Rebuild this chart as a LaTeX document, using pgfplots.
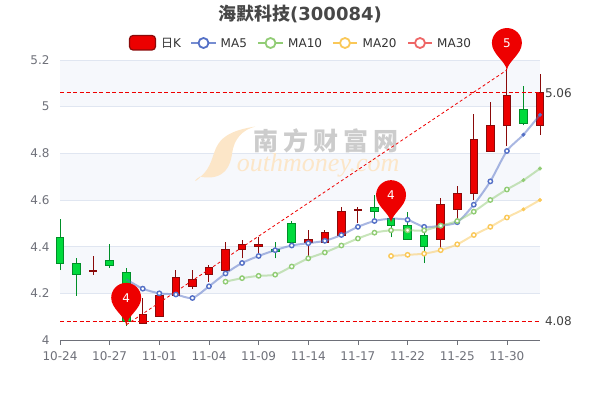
\documentclass[border=0pt]{standalone}
\usepackage{fontspec}
\usepackage{pgfplots}
\pgfplotsset{compat=1.18}
\setmainfont{DejaVu Sans}
\newfontfamily\cjk{Noto Sans CJK SC}
\newfontfamily\wmcjk[LetterSpace=20]{Noto Sans CJK SC}
\newfontfamily\wmlat{Liberation Serif}
\definecolor{tickc}{HTML}{6E7079}
\definecolor{gridc}{HTML}{E0E6F1}
\definecolor{bandc}{HTML}{F6F8FC}
\definecolor{upc}{HTML}{EC0000}
\definecolor{upb}{HTML}{8A0A0A}
\definecolor{dnc}{HTML}{00DA3C}
\definecolor{dnb}{HTML}{008F28}
\definecolor{ma5}{HTML}{5470C6}
\definecolor{ma10}{HTML}{91CC75}
\definecolor{ma20}{HTML}{FAC858}
\definecolor{ma30}{HTML}{EE6666}
\definecolor{pinc}{HTML}{EE0000}
\definecolor{wmp}{HTML}{FCE6C8}
\definecolor{wmg}{HTML}{CCCCCC}
\pgfdeclareplotmark{pin}{%
  \pgfpathmoveto{\pgfpoint{0pt}{0pt}}%
  \pgfpathcurveto{\pgfpoint{-1.5pt}{9pt}}{\pgfpoint{-15pt}{16pt}}{\pgfpoint{-15pt}{27pt}}%
  \pgfpathcurveto{\pgfpoint{-15pt}{35.3pt}}{\pgfpoint{-8.3pt}{42pt}}{\pgfpoint{0pt}{42pt}}%
  \pgfpathcurveto{\pgfpoint{8.3pt}{42pt}}{\pgfpoint{15pt}{35.3pt}}{\pgfpoint{15pt}{27pt}}%
  \pgfpathcurveto{\pgfpoint{15pt}{16pt}}{\pgfpoint{1.5pt}{9pt}}{\pgfpoint{0pt}{0pt}}%
  \pgfpathclose\pgfusepathqfill}
\pgfplotsset{
  band/.style={draw=none,fill=bandc,forget plot},
  gl/.style={draw=gridc,line width=0.8pt,forget plot},
  up/.style={draw=upb,fill=upc,line width=0.9pt,forget plot},
  dn/.style={draw=dnb,fill=dnc,line width=0.9pt,forget plot},
  mline/.style={draw=#1,draw opacity=0.5,line width=2pt,smooth,tension=0.45,no markers,forget plot},
  mopen/.style={only marks,mark=*,mark size=2.2pt,mark options={draw=#1,fill=white,line width=1.4pt},forget plot},
  mfill/.style={only marks,mark=*,mark size=1.8pt,mark options={draw=#1,fill=#1},forget plot},
  pinp/.style={only marks,mark=pin,mark options={draw=none,fill=pinc},forget plot,
    nodes near coords={#1},
    nodes near coords style={anchor=center,yshift=27pt,text=white,font=\fontsize{12}{12}\selectfont}},
}
\begin{document}
\begin{tikzpicture}[x=1pt,y=1pt]
\path[use as bounding box] (0,0) rectangle (600,400);
\begin{axis}[
  at={(60pt,60pt)},anchor=south west,scale only axis,width=480pt,height=280pt,
  xmin=0,xmax=29,ymin=4,ymax=5.2,clip=false,
  axis x line*=bottom,axis y line*=left,
  x axis line style={draw=tickc,line width=0.8pt},
  y axis line style={draw=none},
  xtick={0,3,6,9,12,15,18,21,24,27},
  xticklabels={10-24,10-27,11-01,11-04,11-09,11-14,11-17,11-22,11-25,11-30},
  ytick={4,4.2,4.4,4.6,4.8,5,5.2},
  yticklabels={4,4.2,4.4,4.6,4.8,5,5.2},
  tick align=outside,
  x tick style={draw=tickc,line width=0.8pt},
  major tick length=5pt,
  y tick style={draw=none},
  tick label style={text=tickc,font=\fontsize{12}{12}\selectfont},
  /pgf/number format/assume math mode=true,
  xticklabel style={yshift=-3pt},
  yticklabel style={xshift=-2pt},
]
% split areas
\addplot[band] coordinates {(0,5.0)(29,5.0)(29,5.2)(0,5.2)} --cycle;
\addplot[band] coordinates {(0,4.6)(29,4.6)(29,4.8)(0,4.8)} --cycle;
\addplot[band] coordinates {(0,4.2)(29,4.2)(29,4.4)(0,4.4)} --cycle;
% grid
\addplot[gl] coordinates {(0,4.2)(29,4.2)};
\addplot[gl] coordinates {(0,4.4)(29,4.4)};
\addplot[gl] coordinates {(0,4.6)(29,4.6)};
\addplot[gl] coordinates {(0,4.8)(29,4.8)};
\addplot[gl] coordinates {(0,5.0)(29,5.0)};
\addplot[gl] coordinates {(0,5.2)(29,5.2)};
% watermark
\fill[color=wmp] (axis cs:11.8,4.915) .. controls (axis cs:8.6,4.88) and (axis cs:9.8,4.78) .. (axis cs:8.5,4.70)
  .. controls (axis cs:8.1,4.67) and (axis cs:8,4.68) .. (axis cs:8.45,4.70)
  .. controls (axis cs:10,4.68) and (axis cs:10.3,4.75) .. (axis cs:10.4,4.80)
  .. controls (axis cs:10.5,4.86) and (axis cs:11,4.90) .. (axis cs:11.8,4.915) --cycle;
\node[anchor=center,text=wmg,inner sep=0,font=\wmcjk\bfseries\fontsize{25}{25}\selectfont] at (axis cs:16.1,4.855) {南方财富网};
\node[anchor=center,text=wmp,inner sep=0,font=\wmlat\itshape\fontsize{26}{26}\selectfont] at (axis cs:15.6,4.75) {outhmoney.com};
% wicks
\addplot[draw=dnb,line width=1pt,forget plot,unbounded coords=jump] coordinates {
(0,4.30)(0,4.52) (nan,nan) (1,4.19)(1,4.35) (nan,nan) (3,4.31)(3,4.41) (nan,nan) (4,4.06)(4,4.31) (nan,nan)
(13,4.35)(13,4.42) (nan,nan) (14,4.41)(14,4.51) (nan,nan) (19,4.52)(19,4.62) (nan,nan) (20,4.44)(20,4.57) (nan,nan)
(21,4.43)(21,4.55) (nan,nan) (22,4.33)(22,4.47) (nan,nan) (28,4.92)(28,5.09)};
\addplot[draw=upb,line width=1pt,forget plot,unbounded coords=jump] coordinates {
(2,4.28)(2,4.36) (nan,nan) (5,4.07)(5,4.18) (nan,nan) (6,4.10)(6,4.19) (nan,nan) (7,4.19)(7,4.30) (nan,nan)
(8,4.22)(8,4.30) (nan,nan) (9,4.25)(9,4.32) (nan,nan) (10,4.30)(10,4.42) (nan,nan) (11,4.35)(11,4.43) (nan,nan)
(12,4.37)(12,4.44) (nan,nan) (15,4.36)(15,4.47) (nan,nan) (16,4.42)(16,4.47) (nan,nan) (17,4.45)(17,4.57) (nan,nan)
(18,4.50)(18,4.57) (nan,nan) (23,4.39)(23,4.61) (nan,nan) (24,4.52)(24,4.66) (nan,nan) (25,4.60)(25,4.97) (nan,nan)
(26,4.81)(26,5.02) (nan,nan) (27,4.83)(27,5.16) (nan,nan) (29,4.88)(29,5.14)};
% bodies
\addplot[dn] coordinates {(-0.23,4.44)(0.23,4.44)(0.23,4.33)(-0.23,4.33)} --cycle;
\addplot[dn] coordinates {(0.77,4.33)(1.23,4.33)(1.23,4.28)(0.77,4.28)} --cycle;
\addplot[up] coordinates {(1.77,4.30)(2.23,4.30)(2.23,4.295)(1.77,4.295)} --cycle;
\addplot[dn] coordinates {(2.77,4.34)(3.23,4.34)(3.23,4.32)(2.77,4.32)} --cycle;
\addplot[dn] coordinates {(3.77,4.29)(4.23,4.29)(4.23,4.08)(3.77,4.08)} --cycle;
\addplot[up] coordinates {(4.77,4.11)(5.23,4.11)(5.23,4.07)(4.77,4.07)} --cycle;
\addplot[up] coordinates {(5.77,4.19)(6.23,4.19)(6.23,4.10)(5.77,4.10)} --cycle;
\addplot[up] coordinates {(6.77,4.27)(7.23,4.27)(7.23,4.19)(6.77,4.19)} --cycle;
\addplot[up] coordinates {(7.77,4.26)(8.23,4.26)(8.23,4.23)(7.77,4.23)} --cycle;
\addplot[up] coordinates {(8.77,4.31)(9.23,4.31)(9.23,4.28)(8.77,4.28)} --cycle;
\addplot[up] coordinates {(9.77,4.39)(10.23,4.39)(10.23,4.30)(9.77,4.30)} --cycle;
\addplot[up] coordinates {(10.77,4.41)(11.23,4.41)(11.23,4.39)(10.77,4.39)} --cycle;
\addplot[up] coordinates {(11.77,4.41)(12.23,4.41)(12.23,4.40)(11.77,4.40)} --cycle;
\addplot[dn] coordinates {(12.77,4.39)(13.23,4.39)(13.23,4.38)(12.77,4.38)} --cycle;
\addplot[dn] coordinates {(13.77,4.50)(14.23,4.50)(14.23,4.42)(13.77,4.42)} --cycle;
\addplot[up] coordinates {(14.77,4.43)(15.23,4.43)(15.23,4.42)(14.77,4.42)} --cycle;
\addplot[up] coordinates {(15.77,4.46)(16.23,4.46)(16.23,4.42)(15.77,4.42)} --cycle;
\addplot[up] coordinates {(16.77,4.55)(17.23,4.55)(17.23,4.45)(16.77,4.45)} --cycle;
\addplot[up] coordinates {(17.77,4.56)(18.23,4.56)(18.23,4.555)(17.77,4.555)} --cycle;
\addplot[dn] coordinates {(18.77,4.57)(19.23,4.57)(19.23,4.55)(18.77,4.55)} --cycle;
\addplot[dn] coordinates {(19.77,4.52)(20.23,4.52)(20.23,4.49)(19.77,4.49)} --cycle;
\addplot[dn] coordinates {(20.77,4.49)(21.23,4.49)(21.23,4.43)(20.77,4.43)} --cycle;
\addplot[dn] coordinates {(21.77,4.45)(22.23,4.45)(22.23,4.40)(21.77,4.40)} --cycle;
\addplot[up] coordinates {(22.77,4.58)(23.23,4.58)(23.23,4.43)(22.77,4.43)} --cycle;
\addplot[up] coordinates {(23.77,4.63)(24.23,4.63)(24.23,4.56)(23.77,4.56)} --cycle;
\addplot[up] coordinates {(24.77,4.86)(25.23,4.86)(25.23,4.63)(24.77,4.63)} --cycle;
\addplot[up] coordinates {(25.77,4.92)(26.23,4.92)(26.23,4.81)(25.77,4.81)} --cycle;
\addplot[up] coordinates {(26.77,5.05)(27.23,5.05)(27.23,4.92)(26.77,4.92)} --cycle;
\addplot[dn] coordinates {(27.77,4.99)(28.23,4.99)(28.23,4.93)(27.77,4.93)} --cycle;
\addplot[up] coordinates {(28.77,5.06)(29.23,5.06)(29.23,4.92)(28.77,4.92)} --cycle;
% MA lines
\addplot[mline=ma5] coordinates {(4,4.26)(5,4.22)(6,4.20)(7,4.195)(8,4.18)(9,4.23)(10,4.285)(11,4.33)(12,4.36)(13,4.385)(14,4.405)(15,4.415)(16,4.425)(17,4.45)(18,4.485)(19,4.51)(20,4.52)(21,4.515)(22,4.485)(23,4.49)(24,4.505)(25,4.58)(26,4.68)(27,4.81)(28,4.88)(29,4.965)};
\addplot[mline=ma10] coordinates {(10,4.25)(11,4.265)(12,4.275)(13,4.28)(14,4.315)(15,4.35)(16,4.375)(17,4.405)(18,4.435)(19,4.46)(20,4.47)(21,4.47)(22,4.47)(23,4.49)(24,4.51)(25,4.55)(26,4.60)(27,4.645)(28,4.685)(29,4.735)};
\addplot[mline=ma20] coordinates {(20,4.36)(21,4.365)(22,4.37)(23,4.385)(24,4.41)(25,4.45)(26,4.485)(27,4.525)(28,4.56)(29,4.60)};
\addplot[mopen=ma5] coordinates {(5,4.22)(6,4.20)(7,4.195)(8,4.18)(9,4.23)(10,4.285)(11,4.33)(12,4.36)(13,4.385)(14,4.405)(15,4.415)(16,4.425)(17,4.45)(18,4.485)(19,4.51)(21,4.515)(22,4.485)(23,4.49)(24,4.505)(25,4.58)(26,4.68)(27,4.81)};
\addplot[mfill=ma5] coordinates {(28,4.88)(29,4.965)};
\addplot[mopen=ma10] coordinates {(10,4.25)(11,4.265)(12,4.275)(13,4.28)(14,4.315)(15,4.35)(16,4.375)(17,4.405)(18,4.435)(19,4.46)(20,4.47)(21,4.47)(22,4.47)(23,4.49)(24,4.51)(25,4.55)(26,4.60)(27,4.645)};
\addplot[mfill=ma10] coordinates {(28,4.685)(29,4.735)};
\addplot[mopen=ma20] coordinates {(20,4.36)(21,4.365)(22,4.37)(23,4.385)(24,4.41)(25,4.45)(26,4.485)(27,4.525)};
\addplot[mfill=ma20] coordinates {(28,4.56)(29,4.60)};
% mark lines
\addplot[draw=pinc,line width=0.8pt,dash pattern=on 4pt off 2.5pt,forget plot] coordinates {(0,5.06)(29,5.06)};
\addplot[draw=pinc,line width=0.8pt,dash pattern=on 4pt off 2.5pt,forget plot] coordinates {(0,4.08)(29,4.08)};
\addplot[draw=pinc,line width=0.8pt,dash pattern=on 3pt off 2.5pt,forget plot] coordinates {(4,4.065)(27,5.157)};
\node[anchor=west,text=black!75,font=\fontsize{12}{12}\selectfont,xshift=1.5pt] at (axis cs:29,5.06) {5.06};
\node[anchor=west,text=black!75,font=\fontsize{12}{12}\selectfont,xshift=1.5pt] at (axis cs:29,4.08) {4.08};
% pins
\addplot[pinp=4] coordinates {(4,4.065)};
\addplot[pinp=4] coordinates {(20,4.505)};
\addplot[pinp=5] coordinates {(27,5.157)};
\end{axis}
% title
\node[anchor=center,text=black!72,font=\fontsize{18}{18}\selectfont\bfseries] at (300,386) {{\cjk 海默科技}(300084)};
% legend
\draw[draw=upb,fill=upc,line width=1.2pt,rounded corners=3.5pt] (129.5,350) rectangle (155.5,364.5);
\node[anchor=west,inner sep=0,text=black!80,font=\fontsize{12}{12}\selectfont] at (161,357) {{\cjk 日}K};
\draw[draw=ma5,line width=1.6pt,draw opacity=0.8] (191,357) -- (216,357);
\draw[draw=ma5,fill=white,line width=1.8pt] (203.5,357) circle (5);
\node[anchor=west,inner sep=0,text=black!80,font=\fontsize{12}{12}\selectfont] at (220.5,357) {MA5};
\draw[draw=ma10,line width=1.6pt] (258,357) -- (283,357);
\draw[draw=ma10,fill=white,line width=1.8pt] (270.5,357) circle (5);
\node[anchor=west,inner sep=0,text=black!80,font=\fontsize{12}{12}\selectfont] at (288,357) {MA10};
\draw[draw=ma20,line width=1.6pt] (333,357) -- (357,357);
\draw[draw=ma20,fill=white,line width=1.8pt] (345,357) circle (5);
\node[anchor=west,inner sep=0,text=black!80,font=\fontsize{12}{12}\selectfont] at (362.5,357) {MA20};
\draw[draw=ma30,line width=1.6pt] (408,357) -- (432,357);
\draw[draw=ma30,fill=white,line width=1.8pt] (420,357) circle (5);
\node[anchor=west,inner sep=0,text=black!80,font=\fontsize{12}{12}\selectfont] at (437,357) {MA30};
\end{tikzpicture}
\end{document}
